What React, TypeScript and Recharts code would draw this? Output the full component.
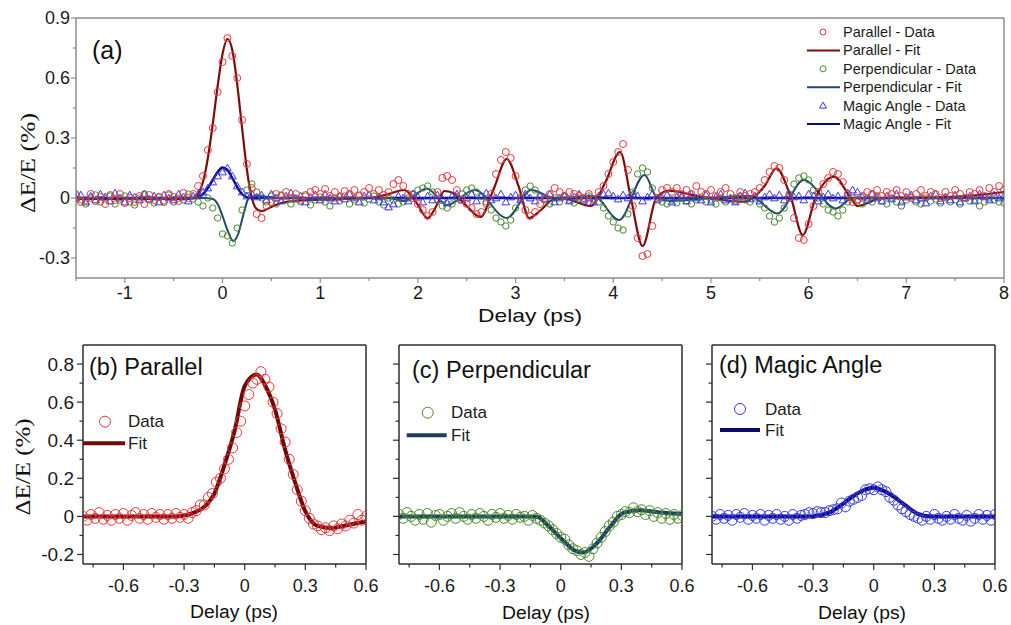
import React from "react";
import {
  ComposedChart,
  Scatter,
  Line,
  XAxis,
  YAxis,
  Legend,
  ReferenceLine,
} from "recharts";

// ---------- panel (a): full delay scan, one sample every 0.05 ps ----------
const scanDelays = [
  -1.5, -1.45, -1.4, -1.35, -1.3, -1.25, -1.2, -1.15, -1.1, -1.05,
  -1, -0.95, -0.9, -0.85, -0.8, -0.75, -0.7, -0.65, -0.6, -0.55,
  -0.5, -0.45, -0.4, -0.35, -0.3, -0.25, -0.2, -0.15, -0.1, -0.05,
  0, 0.05, 0.1, 0.15, 0.2, 0.25, 0.3, 0.35, 0.4, 0.45,
  0.5, 0.55, 0.6, 0.65, 0.7, 0.75, 0.8, 0.85, 0.9, 0.95,
  1, 1.05, 1.1, 1.15, 1.2, 1.25, 1.3, 1.35, 1.4, 1.45,
  1.5, 1.55, 1.6, 1.65, 1.7, 1.75, 1.8, 1.85, 1.9, 1.95,
  2, 2.05, 2.1, 2.15, 2.2, 2.25, 2.3, 2.35, 2.4, 2.45,
  2.5, 2.55, 2.6, 2.65, 2.7, 2.75, 2.8, 2.85, 2.9, 2.95,
  3, 3.05, 3.1, 3.15, 3.2, 3.25, 3.3, 3.35, 3.4, 3.45,
  3.5, 3.55, 3.6, 3.65, 3.7, 3.75, 3.8, 3.85, 3.9, 3.95,
  4, 4.05, 4.1, 4.15, 4.2, 4.25, 4.3, 4.35, 4.4, 4.45,
  4.5, 4.55, 4.6, 4.65, 4.7, 4.75, 4.8, 4.85, 4.9, 4.95,
  5, 5.05, 5.1, 5.15, 5.2, 5.25, 5.3, 5.35, 5.4, 5.45,
  5.5, 5.55, 5.6, 5.65, 5.7, 5.75, 5.8, 5.85, 5.9, 5.95,
  6, 6.05, 6.1, 6.15, 6.2, 6.25, 6.3, 6.35, 6.4, 6.45,
  6.5, 6.55, 6.6, 6.65, 6.7, 6.75, 6.8, 6.85, 6.9, 6.95,
  7, 7.05, 7.1, 7.15, 7.2, 7.25, 7.3, 7.35, 7.4, 7.45,
  7.5, 7.55, 7.6, 7.65, 7.7, 7.75, 7.8, 7.85, 7.9, 7.95,
  8,
];

const parallelScan = [
  0.01, -0.02, -0.01, 0.02, -0.015, 0.005, -0.03, 0.015, -0.01, 0.02,
  -0.025, 0, -0.02, 0.01, -0.03, 0.015, -0.01, 0.005, -0.02, 0.02,
  0.005, -0.015, 0.025, 0, 0.02, 0.06, 0.11, 0.24, 0.35, 0.53,
  0.68, 0.8, 0.71, 0.6, 0.39, 0.17, 0.05, -0.08, -0.1, -0.04,
  -0.02, 0.02, 0.01, 0.03, 0, 0.02, -0.01, 0.015, 0.03, 0.04,
  0.02, 0.045, 0.01, 0.03, 0.005, 0.035, 0.02, 0.04, 0.01, 0.03,
  0.05, 0.02, 0.04, 0.015, 0.03, 0.07, 0.09, 0.06, 0.02, 0,
  -0.03, -0.06, -0.09, -0.07, 0.03, 0.1, 0.11, 0.09, 0.04, -0.01,
  -0.03, -0.05, -0.08, -0.07, -0.03, 0.02, 0.12, 0.19, 0.23, 0.2,
  0.11, 0, -0.06, -0.09, -0.07, -0.03, 0, 0.02, 0.05, 0.03,
  0.01, 0.03, 0.02, 0.01, 0, 0.02, -0.01, 0.03, 0.06, 0.12,
  0.18, 0.23, 0.27, 0.14, -0.04, -0.2, -0.29, -0.28, -0.14, 0,
  0.04, 0.05, 0.03, 0.05, 0.02, 0.04, 0.02, 0.06, 0.03, 0.02,
  0.04, 0.01, 0.03, 0.05, 0.02, 0, 0.03, 0.01, 0.02, 0.03,
  0.05, 0.09, 0.13, 0.16, 0.15, 0.09, 0, -0.1, -0.2, -0.21,
  -0.13, -0.04, 0.03, 0.07, 0.1, 0.13, 0.12, 0.08, 0.02, -0.02,
  -0.01, 0.01, 0.03, 0.02, 0.04, 0.01, 0.03, 0.02, 0.04, 0.01,
  0.03, 0, 0.02, 0.04, 0.01, 0.03, 0.02, 0, 0.03, 0.01,
  0.04, 0.02, 0, 0.03, 0.02, 0.04, 0.01, 0.05, 0.03, 0.06,
  0.04,
];

const perpendicularScan = [
  0.02, -0.01, -0.03, 0, 0.015, -0.02, -0.005, 0.01, -0.03, -0.01,
  0.01, -0.02, -0.035, 0, 0.02, -0.01, -0.025, 0.005, -0.015, 0.015,
  -0.02, 0, -0.01, 0.02, -0.005, -0.02, -0.04, 0, -0.05, -0.1,
  -0.18, -0.19, -0.225, -0.15, -0.06, 0.04, 0.07, 0.03, 0, -0.02,
  0.01, -0.03, 0.015, -0.01, -0.03, 0, -0.02, 0.01, -0.035, -0.01,
  0.005, -0.02, -0.04, 0, -0.015, 0.01, -0.03, -0.01, 0.015, -0.025,
  -0.005, 0.01, -0.02, -0.035, 0, -0.01, -0.03, -0.02, 0, 0.02,
  0.04, 0.05, 0.06, 0.03, -0.01, -0.04, -0.05, -0.03, 0, 0.02,
  0.04, 0.05, 0.03, 0.01, -0.02, -0.06, -0.1, -0.12, -0.14, -0.11,
  -0.05, 0, 0.04, 0.06, 0.04, 0.01, -0.01, -0.03, 0, -0.02,
  0.01, -0.01, -0.025, 0, -0.015, 0.01, -0.005, -0.02, -0.05, -0.09,
  -0.12, -0.15, -0.16, -0.08, 0.03, 0.12, 0.15, 0.13, 0.05, 0,
  -0.02, -0.03, -0.01, -0.025, 0, -0.015, -0.03, -0.01, 0.005, -0.02,
  -0.01, -0.03, 0, -0.02, -0.005, -0.015, 0.01, -0.01, -0.02, 0,
  -0.03, -0.05, -0.09, -0.12, -0.1, -0.05, 0.02, 0.07, 0.1, 0.11,
  0.09, 0.04, 0, -0.03, -0.06, -0.07, -0.09, -0.06, -0.02, 0,
  -0.01, -0.03, 0, -0.02, 0.01, -0.015, -0.03, 0, -0.02, -0.04,
  -0.01, 0.005, -0.02, -0.03, 0, -0.015, -0.005, -0.025, 0, -0.02,
  -0.01, -0.03, 0, -0.015, -0.01, -0.04, -0.02, 0, -0.01, -0.02,
  -0.025,
];

const magicScan = [
  0, 0.015, -0.02, 0.01, -0.01, 0.02, 0.005, -0.015, 0.025, 0,
  -0.02, 0.015, 0.005, -0.01, 0.02, -0.005, 0.01, -0.02, 0.015, 0,
  -0.01, 0.02, 0.005, -0.015, 0.01, 0.02, 0.03, 0.05, 0.08, 0.11,
  0.13, 0.15, 0.11, 0.06, 0.03, 0.01, 0.02, 0.005, 0.015, -0.01,
  0.02, 0, -0.015, 0.01, 0.025, -0.005, 0.01, -0.02, 0.005, 0.015,
  -0.01, 0.02, 0, -0.015, 0.01, -0.005, 0.02, 0, -0.02, 0.01,
  0.015, -0.01, 0.005, -0.02, -0.045, -0.03, 0.01, 0, -0.015, 0.02,
  0.005, -0.02, 0.01, -0.01, 0.015, -0.005, -0.025, 0.01, 0.02, -0.01,
  0, 0.02, -0.015, 0.01, 0.025, -0.01, 0, 0.02, -0.02, 0.005,
  0.015, -0.01, 0.02, 0, -0.015, 0.01, -0.005, 0.02, -0.02, 0,
  0.01, -0.015, 0.005, 0.02, -0.01, 0, -0.02, 0.01, 0.02, 0.025,
  0.01, -0.005, 0.015, 0, 0.02, 0.01, -0.015, 0.005, 0.02, -0.01,
  0, 0.015, -0.02, 0.005, 0.01, -0.015, 0.02, 0, -0.01, 0.015,
  -0.02, 0.005, 0.02, -0.01, 0, -0.02, 0.01, 0.025, -0.005, 0.01,
  -0.015, 0.005, 0.02, 0, 0.015, -0.01, 0.02, 0.005, 0.01, -0.01,
  0.02, 0.01, -0.015, 0.005, 0.02, 0, 0.01, -0.01, 0.025, 0.04,
  0.03, 0.005, -0.01, 0.02, 0, -0.015, 0.01, -0.005, 0.02, -0.02,
  0.005, 0.015, -0.01, 0, -0.025, 0.01, 0.02, -0.015, 0.005, -0.01,
  0.015, -0.02, 0, 0.01, -0.015, 0.02, 0.005, -0.01, 0.015, 0,
  0.01,
];

// fitted curves of panel (a), knots
const parallelFitDelays = [
  -1.5, -0.35, -0.3, -0.25, -0.2, -0.15, -0.1, -0.05, 0, 0.05, 0.1, 0.15, 0.2,
  0.25, 0.3, 0.35, 0.4, 0.5, 0.6, 0.8, 1, 1.5, 1.7, 1.86, 1.98, 2.1, 2.2, 2.27,
  2.36, 2.5, 2.64, 2.78, 2.91, 3.03, 3.14, 3.26, 3.38, 3.5, 3.77, 3.92, 4.07,
  4.18, 4.3, 4.44, 4.57, 4.86, 5.34, 5.55, 5.67, 5.82, 5.94, 6.07, 6.26, 6.43,
  6.5, 6.75, 7.4, 7.74, 8,
];
const parallelFitValues = [
  -0.005, -0.005, 0, 0.02, 0.08, 0.2, 0.37, 0.56, 0.72, 0.795, 0.74, 0.57, 0.35,
  0.14, 0, -0.055, -0.065, -0.045, -0.025, -0.012, -0.008, 0, 0.02, 0.04, -0.02,
  -0.1, -0.03, 0.035, 0.025, -0.04, -0.095, 0.05, 0.195, 0.06, -0.1, -0.06,
  -0.01, -0.005, -0.04, 0.08, 0.23, 0, -0.24, 0, 0.037, 0.01, -0.018, 0.06,
  0.148, 0, -0.185, 0, 0.107, 0, -0.04, 0, 0.005, 0.015, 0.03,
];

const perpendicularFitDelays = [
  -1.5, -0.2, -0.1, -0.05, 0, 0.05, 0.11, 0.16, 0.21, 0.27, 0.35, 0.6, 1.7,
  1.86, 2.09, 2.3, 2.58, 2.91, 3.16, 3.4, 3.8, 4.06, 4.32, 4.45, 4.6, 5, 5.4,
  5.68, 5.95, 6.28, 6.45, 8,
];
const perpendicularFitValues = [
  0, 0, -0.005, -0.03, -0.09, -0.16, -0.215, -0.18, -0.09, 0, 0.01, 0, 0,
  -0.015, 0.048, -0.035, 0.04, -0.1, 0.04, 0, 0.01, -0.11, 0.115, 0, -0.015, 0,
  0.01, -0.077, 0.09, -0.052, 0, 0,
];

const magicFitDelays = [
  -1.5, -0.3, -0.25, -0.2, -0.15, -0.1, -0.05, 0, 0.05, 0.1, 0.15, 0.2, 0.25,
  0.3, 8,
];
const magicFitValues = [
  0, 0, 0.005, 0.02, 0.05, 0.09, 0.13, 0.152, 0.14, 0.1, 0.055, 0.02, 0.003, 0,
  0,
];

// ---------- panels (b)-(d): close-up around zero delay, every 0.02 ps ----------
const zoomDelays = [
  -0.8, -0.78, -0.76, -0.74, -0.72, -0.7, -0.68, -0.66, -0.64, -0.62,
  -0.6, -0.58, -0.56, -0.54, -0.52, -0.5, -0.48, -0.46, -0.44, -0.42,
  -0.4, -0.38, -0.36, -0.34, -0.32, -0.3, -0.28, -0.26, -0.24, -0.22,
  -0.2, -0.18, -0.16, -0.14, -0.12, -0.1, -0.08, -0.06, -0.04, -0.02,
  0, 0.02, 0.04, 0.06, 0.08, 0.1, 0.12, 0.14, 0.16, 0.18,
  0.2, 0.22, 0.24, 0.26, 0.28, 0.3, 0.32, 0.34, 0.36, 0.38,
  0.4, 0.42, 0.44, 0.46, 0.48, 0.5, 0.52, 0.54, 0.56, 0.58,
  0.6,
];

const parallelZoom = [
  0, -0.02, 0.01, -0.01, 0.02, -0.015, 0.005, -0.02, 0.01, -0.01,
  0.015, -0.02, 0.005, 0.02, -0.01, 0.01, -0.015, 0.015, -0.005, 0.01,
  -0.015, 0.01, -0.01, 0.015, -0.005, 0.01, -0.01, 0.02, 0.03, 0.06,
  0.06, 0.1, 0.12, 0.18, 0.2, 0.25, 0.3, 0.36, 0.44, 0.5,
  0.58, 0.64, 0.7, 0.72, 0.76, 0.72, 0.68, 0.6, 0.54, 0.46,
  0.39, 0.3, 0.22, 0.14, 0.08, 0.03, -0.01, -0.04, -0.05, -0.07,
  -0.06, -0.075, -0.05, -0.065, -0.04, -0.05, -0.02, -0.035, 0.01, -0.02,
  0,
];

const perpendicularZoom = [
  0.01, -0.01, 0.02, 0, -0.02, 0.01, -0.015, 0.015, -0.03, 0.005,
  0.01, -0.02, 0, 0.015, -0.01, 0.02, 0, -0.015, 0.01, -0.01,
  0.015, 0, -0.02, 0.01, -0.005, 0.015, -0.01, 0.005, -0.015, 0.01,
  -0.005, 0, -0.02, 0.005, -0.01, -0.02, -0.035, -0.05, -0.07, -0.09,
  -0.11, -0.12, -0.15, -0.17, -0.18, -0.2, -0.19, -0.21, -0.17, -0.14,
  -0.11, -0.08, -0.05, -0.03, 0, 0.01, 0.025, 0.02, 0.045, 0.025,
  0.035, 0.01, 0.03, 0, 0.02, -0.01, 0.015, -0.015, 0.01, -0.01,
  0.005,
];

const magicZoom = [
  0, -0.015, 0.01, -0.01, 0.005, -0.02, 0.01, -0.005, 0.015, -0.015,
  0.005, -0.01, 0.01, -0.02, 0.005, -0.01, 0.01, -0.015, 0, -0.02,
  0.01, -0.01, 0.005, 0.01, 0.02, 0.015, 0.025, 0.02, 0.02, 0.03,
  0.035, 0.04, 0.07, 0.05, 0.08, 0.09, 0.1, 0.11, 0.14, 0.145,
  0.14, 0.155, 0.14, 0.13, 0.1, 0.085, 0.06, 0.04, 0.025, 0.01,
  0, -0.01, -0.02, 0, -0.015, 0.01, -0.01, -0.02, 0, -0.015,
  0.01, -0.01, -0.02, 0.005, -0.025, -0.01, 0.01, -0.015, 0.005, -0.02,
  0.01,
];

const parallelZoomFitDelays = [
  -0.8, -0.35, -0.3, -0.25, -0.2, -0.15, -0.1, -0.05, 0, 0.06, 0.1, 0.15, 0.2,
  0.25, 0.3, 0.36, 0.43, 0.51, 0.6,
];
const parallelZoomFitValues = [
  0, 0, 0.005, 0.02, 0.05, 0.12, 0.27, 0.45, 0.685, 0.745, 0.69, 0.56, 0.35,
  0.176, 0.026, -0.05, -0.061, -0.045, -0.026,
];

const perpendicularZoomFitDelays = [
  -0.8, -0.15, -0.116, -0.067, 0, 0.064, 0.11, 0.18, 0.245, 0.31, 0.393, 0.49,
  0.6,
];
const perpendicularZoomFitValues = [
  0, 0, -0.002, -0.044, -0.114, -0.176, -0.19, -0.14, -0.053, 0.018, 0.032,
  0.021, 0.013,
];

const magicZoomFitDelays = [
  -0.8, -0.306, -0.224, -0.158, -0.077, 0, 0.07, 0.152, 0.218, 0.28, 0.6,
];
const magicZoomFitValues = [
  0, 0, 0.018, 0.062, 0.123, 0.15, 0.123, 0.062, 0.013, 0, 0,
];

// ---------- ticks ----------
const scanTicksX = [
  -1.5, -1, -0.5, 0, 0.5, 1, 1.5, 2, 2.5, 3, 3.5, 4, 4.5, 5, 5.5, 6, 6.5, 7,
  7.5, 8,
];
const scanMajorX = [-1, 0, 1, 2, 3, 4, 5, 6, 7, 8];
const scanTicksY = [-0.3, -0.15, 0, 0.15, 0.3, 0.45, 0.6, 0.75, 0.9];
const scanMajorY = [-0.3, 0, 0.3, 0.6, 0.9];
const zoomTicksX = [-0.75, -0.6, -0.45, -0.3, -0.15, 0, 0.15, 0.3, 0.45, 0.6];
const zoomMajorX = [-0.6, -0.3, 0, 0.3, 0.6];
const zoomTicksY = [-0.2, -0.1, 0, 0.1, 0.2, 0.3, 0.4, 0.5, 0.6, 0.7, 0.8];
const zoomMajorY = [-0.2, 0, 0.2, 0.4, 0.6, 0.8];

const SANS = "Arial, 'Liberation Sans', Helvetica, sans-serif";
const SERIF = "'Times New Roman', 'Liberation Serif', serif";

const RED = "#e8383a";
const PAR_FIT = "#7d0d0d";
const GREEN = "#4a8a2c";
const PERP_FIT = "#24496b";
const BLUE = "#3838f0";
const MAGIC_FIT = "#0c0c78";
const GRAY = "#8c8c8c";
const DARK = "#2e2e2e";

const zip = (xs: number[], ys: number[]) =>
  xs.map((x, i) => ({ x, y: ys[i] }));

const openCircle = (r: number, color: string) => (p: any) =>
  p.cx == null ? <g /> : (
    <circle cx={p.cx} cy={p.cy} r={r} fill="none" stroke={color} strokeWidth={1} />
  );

const openTriangle = (s: number, color: string) => (p: any) =>
  p.cx == null ? <g /> : (
    <path
      d={`M${p.cx},${p.cy - s} L${p.cx + s},${p.cy + s * 0.75} L${p.cx - s},${p.cy + s * 0.75} Z`}
      fill="none"
      stroke={color}
      strokeWidth={1}
    />
  );

type TickOpts = {
  side: "bottom" | "left";
  major: number[];
  majorLen: number;
  minorLen: number;
  gap: number;
  fontSize: number;
  color: string;
  labels: boolean;
};

const tickRenderer = (o: TickOpts) => (p: any) => {
  const v = p.payload.value;
  const major = o.major.some((m) => Math.abs(m - v) < 1e-6);
  const len = major ? o.majorLen : o.minorLen;
  if (o.side === "bottom") {
    return (
      <g>
        <line x1={p.x} x2={p.x} y1={p.y} y2={p.y + len} stroke={o.color} strokeWidth={1.2} />
        {major && o.labels && (
          <text x={p.x} y={p.y + o.gap} textAnchor="middle" dominantBaseline="central"
            fontSize={o.fontSize} fontFamily={SANS} fill="#1b1b1b">
            {String(v)}
          </text>
        )}
      </g>
    );
  }
  return (
    <g>
      <line x1={p.x - len} x2={p.x} y1={p.y} y2={p.y} stroke={o.color} strokeWidth={1.2} />
      {major && o.labels && (
        <text x={p.x - o.gap} y={p.y} textAnchor="end" dominantBaseline="central"
          fontSize={o.fontSize} fontFamily={SANS} fill="#1b1b1b">
          {String(v)}
        </text>
      )}
    </g>
  );
};

const scanLegendItems = [
  { label: "Parallel - Data", kind: "circle", color: RED },
  { label: "Parallel - Fit", kind: "line", color: PAR_FIT },
  { label: "Perpendicular - Data", kind: "circle", color: GREEN },
  { label: "Perpendicular - Fit", kind: "line", color: PERP_FIT },
  { label: "Magic Angle - Data", kind: "triangle", color: BLUE },
  { label: "Magic Angle - Fit", kind: "line", color: MAGIC_FIT },
];

function ScanLegend() {
  return (
    <svg width={210} height={115}>
      {scanLegendItems.map((it, i) => {
        const y = 10 + i * 18.4;
        return (
          <g key={it.label}>
            {it.kind === "line" && (
              <line x1={7} x2={40} y1={y} y2={y} stroke={it.color} strokeWidth={2} />
            )}
            {it.kind === "circle" && (
              <circle cx={23} cy={y} r={3} fill="none" stroke={it.color} />
            )}
            {it.kind === "triangle" && (
              <path d={`M23,${y - 3.5} L26.5,${y + 2.5} L19.5,${y + 2.5} Z`} fill="none" stroke={it.color} />
            )}
            <text x={43} y={y} dominantBaseline="central" fontSize={14.5} fontFamily={SANS} fill="#1b1b1b">
              {it.label}
            </text>
          </g>
        );
      })}
    </svg>
  );
}

function ScanPanel() {
  const xTick = tickRenderer({ side: "bottom", major: scanMajorX, majorLen: 5, minorLen: 3, gap: 15, fontSize: 18, color: GRAY, labels: true });
  const yTick = tickRenderer({ side: "left", major: scanMajorY, majorLen: 5, minorLen: 3, gap: 6, fontSize: 18, color: GRAY, labels: true });
  return (
    <div style={{ position: "absolute", left: 0, top: 0 }}>
      <ComposedChart width={1011} height={330} margin={{ top: 18, right: 7, left: 0, bottom: 0 }}>
        <XAxis dataKey="x" type="number" domain={[-1.5, 8]} ticks={scanTicksX} interval={0}
          allowDataOverflow height={52} tickSize={0} tickMargin={0} tickLine={false}
          axisLine={{ stroke: GRAY, strokeWidth: 1.5 }} tick={xTick} />
        <YAxis type="number" domain={[-0.4, 0.9]} ticks={scanTicksY} interval={0}
          allowDataOverflow width={76} tickSize={0} tickMargin={0} tickLine={false}
          axisLine={{ stroke: GRAY, strokeWidth: 1.5 }} tick={yTick} />
        <ReferenceLine y={0.9} stroke={GRAY} strokeWidth={1.5} />
        <ReferenceLine x={8} stroke={GRAY} strokeWidth={1.5} />
        <Scatter name="Perpendicular - Data" data={zip(scanDelays, perpendicularScan)} dataKey="y"
          shape={openCircle(3.2, GREEN)} isAnimationActive={false} />
        <Scatter name="Magic Angle - Data" data={zip(scanDelays, magicScan)} dataKey="y"
          shape={openTriangle(3.8, BLUE)} isAnimationActive={false} />
        <Scatter name="Parallel - Data" data={zip(scanDelays, parallelScan)} dataKey="y"
          shape={openCircle(3.5, RED)} isAnimationActive={false} />
        <Line name="Magic Angle - Fit" data={zip(magicFitDelays, magicFitValues)} dataKey="y"
          type="monotone" stroke={MAGIC_FIT} strokeWidth={2.5} dot={false} isAnimationActive={false} />
        <Line name="Perpendicular - Fit" data={zip(perpendicularFitDelays, perpendicularFitValues)} dataKey="y"
          type="monotone" stroke={PERP_FIT} strokeWidth={2} dot={false} isAnimationActive={false} />
        <Line name="Parallel - Fit" data={zip(parallelFitDelays, parallelFitValues)} dataKey="y"
          type="monotone" stroke={PAR_FIT} strokeWidth={2.2} dot={false} isAnimationActive={false} />
        <Legend layout="horizontal" verticalAlign="middle" align="center"
          wrapperStyle={{ left: 800, top: 22, width: 210, height: 115 }}
          content={() => <ScanLegend />} />
      </ComposedChart>
    </div>
  );
}

type ZoomProps = {
  left: number;
  width: number;
  axisWidth: number;
  rightPad: number;
  yLabels: boolean;
  points: number[];
  fitDelays: number[];
  fitValues: number[];
  dotColor: string;
  fitColor: string;
  legend: { left: number; top: number; cx: number; x1: number; x2: number; tx: number; dy: number; fy: number };
};

function ZoomPanel(z: ZoomProps) {
  const xTick = tickRenderer({ side: "bottom", major: zoomMajorX, majorLen: 6, minorLen: 3.5, gap: 22, fontSize: 18, color: DARK, labels: true });
  const yTick = tickRenderer({ side: "left", major: zoomMajorY, majorLen: 6, minorLen: 3.5, gap: 9, fontSize: 19, color: DARK, labels: z.yLabels });
  const lg = z.legend;
  return (
    <div style={{ position: "absolute", left: z.left, top: 330 }}>
      <ComposedChart width={z.width} height={295} margin={{ top: 15, right: z.rightPad, left: 0, bottom: 0 }}>
        <XAxis dataKey="x" type="number" domain={[-0.8, 0.6]} ticks={zoomTicksX} interval={0}
          allowDataOverflow height={61} tickSize={0} tickMargin={0} tickLine={false}
          axisLine={{ stroke: DARK, strokeWidth: 1.5 }} tick={xTick} />
        <YAxis type="number" domain={[-0.25, 0.9]} ticks={zoomTicksY} interval={0}
          allowDataOverflow width={z.axisWidth} tickSize={0} tickMargin={0} tickLine={false}
          axisLine={{ stroke: DARK, strokeWidth: 1.5 }} tick={yTick} />
        <ReferenceLine y={0.9} stroke={DARK} strokeWidth={1.5} />
        <ReferenceLine x={0.6} stroke={DARK} strokeWidth={1.5} />
        <Scatter name="Data" data={zip(zoomDelays, z.points)} dataKey="y"
          shape={openCircle(5, z.dotColor)} isAnimationActive={false} />
        <Line name="Fit" data={zip(z.fitDelays, z.fitValues)} dataKey="y" type="monotone"
          stroke={z.fitColor} strokeWidth={4} dot={false} isAnimationActive={false} />
        <Legend layout="horizontal" verticalAlign="middle" align="center"
          wrapperStyle={{ left: lg.left, top: lg.top, width: 110, height: 50 }}
          content={() => (
            <svg width={110} height={50}>
              <circle cx={lg.cx} cy={lg.dy} r={5.5} fill="none" stroke={z.dotColor} />
              <text x={lg.tx} y={lg.dy} dominantBaseline="central" fontSize={17} fontFamily={SANS} fill="#1b1b1b">Data</text>
              <line x1={lg.x1} x2={lg.x2} y1={lg.fy} y2={lg.fy} stroke={z.fitColor} strokeWidth={4} />
              <text x={lg.tx} y={lg.fy} dominantBaseline="central" fontSize={17} fontFamily={SANS} fill="#1b1b1b">Fit</text>
            </svg>
          )} />
      </ComposedChart>
    </div>
  );
}

export default function App() {
  return (
    <div style={{ position: "absolute", left: 0, top: 0, width: 1011, height: 625, background: "#fff" }}>
      <ScanPanel />
      <ZoomPanel left={0} width={386} axisWidth={83} rightPad={20} yLabels points={parallelZoom}
        fitDelays={parallelZoomFitDelays} fitValues={parallelZoomFitValues}
        dotColor={RED} fitColor="#6e0a0a"
        legend={{ left: 80, top: 80, cx: 25, x1: 3, x2: 45, tx: 48, dy: 11.7, fy: 33.3 }} />
      <ZoomPanel left={380} width={322} axisWidth={19} rightPad={20} yLabels={false} points={perpendicularZoom}
        fitDelays={perpendicularZoomFitDelays} fitValues={perpendicularZoomFitValues}
        dotColor={GREEN} fitColor="#1d3e66"
        legend={{ left: 24, top: 70, cx: 23.7, x1: 2.7, x2: 42.7, tx: 47, dy: 12.7, fy: 35.3 }} />
      <ZoomPanel left={690} width={321} axisWidth={22} rightPad={16} yLabels={false} points={magicZoom}
        fitDelays={magicZoomFitDelays} fitValues={magicZoomFitValues}
        dotColor={BLUE} fitColor="#0b0b6b"
        legend={{ left: 28, top: 66, cx: 22, x1: 2, x2: 42, tx: 47, dy: 13, fy: 34 }} />
      <svg width={1011} height={625} style={{ position: "absolute", left: 0, top: 0, pointerEvents: "none" }}>
        <text x={92} y={50} dominantBaseline="central" fontSize={25} fontFamily={SANS} fill="#111">(a)</text>
        <text x={530} y={315} textAnchor="middle" dominantBaseline="central" fontSize={19}
          textLength={104} lengthAdjust="spacingAndGlyphs" fontFamily={SANS} fill="#111">Delay (ps)</text>
        <text transform="translate(28,163) rotate(-90)" textAnchor="middle" dominantBaseline="central"
          fontSize={21} textLength={100} lengthAdjust="spacingAndGlyphs" fontFamily={SERIF} fill="#111">ΔE/E (%)</text>
        <text transform="translate(23,467) rotate(-90)" textAnchor="middle" dominantBaseline="central"
          fontSize={21} textLength={97} lengthAdjust="spacingAndGlyphs" fontFamily={SERIF} fill="#111">ΔE/E (%)</text>
        <text x={89} y={367} dominantBaseline="central" fontSize={23.5} fontFamily={SANS} fill="#111">(b) Parallel</text>
        <text x={412} y={370} dominantBaseline="central" fontSize={23.5} fontFamily={SANS} fill="#111">(c) Perpendicular</text>
        <text x={719} y={365} dominantBaseline="central" fontSize={23.5} fontFamily={SANS} fill="#111">(d) Magic Angle</text>
        <text x={234} y={612} textAnchor="middle" dominantBaseline="central" fontSize={18}
          textLength={88} lengthAdjust="spacingAndGlyphs" fontFamily={SANS} fill="#111">Delay (ps)</text>
        <text x={546} y={613} textAnchor="middle" dominantBaseline="central" fontSize={18}
          textLength={88} lengthAdjust="spacingAndGlyphs" fontFamily={SANS} fill="#111">Delay (ps)</text>
        <text x={862} y={613} textAnchor="middle" dominantBaseline="central" fontSize={18}
          textLength={88} lengthAdjust="spacingAndGlyphs" fontFamily={SANS} fill="#111">Delay (ps)</text>
      </svg>
    </div>
  );
}
